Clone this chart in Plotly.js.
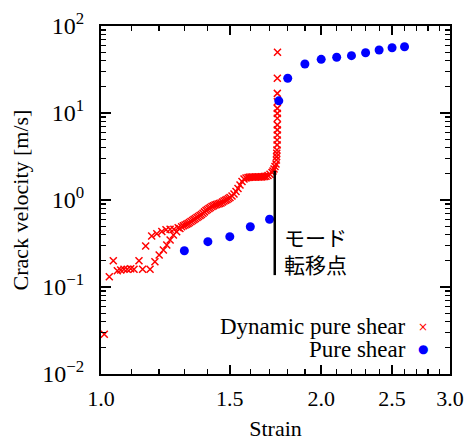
<!DOCTYPE html>
<html>
<head>
<meta charset="utf-8">
<script src="https://cdn.plot.ly/plotly-3.0.1.min.js"></script>
<style>html,body{margin:0;padding:0;background:#fff;}#chart{width:467px;height:441px;}</style>
</head>
<body>
<div id="chart"></div>
<script>
// Dynamic pure shear (red crosses)
const dynStrain = [
  1.0104, 1.0265, 1.0395, 1.0527, 1.064, 1.075, 1.086, 1.098, 1.1095, 1.127,
  1.140, 1.151, 1.167, 1.173, 1.185, 1.192, 1.201, 1.211, 1.217, 1.227,
  1.230, 1.243, 1.243, 1.256, 1.258, 1.269, 1.275, 1.282, 1.289, 1.296,
  1.3027, 1.309, 1.3151, 1.321, 1.3275, 1.334, 1.3401, 1.346, 1.3528, 1.359,
  1.3657, 1.372, 1.3786, 1.385, 1.3917, 1.398, 1.4049, 1.411, 1.4182, 1.425,
  1.4317, 1.438, 1.4453, 1.452, 1.4590, 1.466, 1.4728, 1.480, 1.4868, 1.494,
  1.5009, 1.5104, 1.5199, 1.5295, 1.5392, 1.5489, 1.5587, 1.5686, 1.5785, 1.5885,
  1.596, 1.6035, 1.611, 1.6187, 1.626, 1.6341, 1.642, 1.6496, 1.657, 1.6652,
  1.673, 1.6810, 1.6916, 1.7023, 1.7131, 1.7185, 1.7239, 1.7293, 1.7348,
  1.737, 1.738, 1.739, 1.740, 1.741, 1.741, 1.742, 1.742, 1.742, 1.742,
  1.742, 1.742, 1.742, 1.742, 1.742, 1.743
];
const dynVelocity = [
  0.0286, 0.131, 0.200, 0.154, 0.157, 0.160, 0.160, 0.162, 0.160, 0.200,
  0.160, 0.296, 0.160, 0.386, 0.195, 0.41, 0.233, 0.435, 0.266, 0.455,
  0.304, 0.347, 0.46, 0.396, 0.46, 0.432, 0.48, 0.47, 0.493, 0.505,
  0.516, 0.526, 0.537, 0.551, 0.566, 0.581, 0.597, 0.613, 0.629, 0.646,
  0.663, 0.683, 0.703, 0.730, 0.757, 0.778, 0.798, 0.820, 0.842, 0.860,
  0.876, 0.888, 0.900, 0.912, 0.924, 0.948, 0.974, 0.993, 1.013, 1.040,
  1.068, 1.112, 1.172, 1.252, 1.356, 1.487, 1.632, 1.743, 1.790, 1.814,
  1.826, 1.838, 1.838, 1.838, 1.838, 1.838, 1.838, 1.838, 1.845, 1.850,
  1.860, 1.873, 1.912, 1.974, 2.071, 2.154, 2.271, 2.427, 2.593,
  2.88, 3.15, 3.44, 3.76, 4.3, 4.9, 5.6, 6.4, 7.3, 8.7,
  9.9, 11.3, 13.5, 16.8, 25.1, 49.8
];
// Pure shear (blue dots)
const pureStrain = [1.3, 1.4, 1.5, 1.6, 1.7, 1.75, 1.8, 1.9, 2.0, 2.1, 2.2, 2.3, 2.4, 2.5, 2.6];
const pureVelocity = [0.261, 0.332, 0.379, 0.493, 0.600, 13.8, 25.1, 36.6, 41.4, 43.7, 45.6, 49.3, 53.0, 56.3, 57.8];
// Mode transition marker line
const transitionStrain = [1.728, 1.728];
const transitionVelocity = [0.137, 2.17];

// Axis ticks
const xTickVals = [1.0, 1.5, 2.0, 2.5, 3.0];
const xTickText = ["1.0", "1.5", "2.0", "2.5", "3.0"];
const xMinorVals = [1.1, 1.2, 1.3, 1.4, 1.6, 1.7, 1.8, 1.9, 2.1, 2.2, 2.3, 2.4, 2.6, 2.7, 2.8, 2.9];
const yTickVals = [0.01, 0.1, 1, 10, 100];
const yTickText = ["10<sup>−2</sup>", "10<sup>−1</sup>", "10<sup>0</sup>", "10<sup>1</sup>", "10<sup>2</sup>"];
const yMinorVals = [];
[0.01, 0.1, 1, 10].forEach(d => { for (let k = 2; k <= 9; k++) yMinorVals.push(+(d * k).toPrecision(3)); });

const serif = "'Liberation Serif', 'Times New Roman', serif";

const traces = [
  {
    x: dynStrain, y: dynVelocity, type: "scatter", mode: "markers",
    name: "Dynamic pure shear", showlegend: false,
    marker: { symbol: "x-thin", size: 7, color: "#ff0000", line: { color: "#ff0000", width: 1.5 } }
  },
  {
    x: pureStrain, y: pureVelocity, type: "scatter", mode: "markers",
    name: "Pure shear", showlegend: false,
    marker: { symbol: "circle", size: 9, color: "#0000ff" }
  },
  {
    x: transitionStrain, y: transitionVelocity, type: "scatter", mode: "lines",
    showlegend: false, hoverinfo: "skip",
    line: { color: "#000", width: 2.5 }
  }
];

const layout = {
  width: 467, height: 441,
  margin: { l: 101, r: 17, t: 26, b: 67 },
  paper_bgcolor: "#fff", plot_bgcolor: "#fff",
  showlegend: false,
  font: { family: serif, size: 22, color: "#000" },
  xaxis: {
    type: "log", range: [0, Math.log10(3)],
    tickmode: "array", tickvals: xTickVals, ticktext: xTickText,
    ticks: "inside", ticklen: 9, tickwidth: 1.5, tickcolor: "#000",
    minor: { tickvals: xMinorVals, ticks: "inside", ticklen: 5, tickwidth: 1.2, tickcolor: "#000" },
    showline: true, linewidth: 2, linecolor: "#000", mirror: "ticks",
    showgrid: false, zeroline: false,
    tickfont: { family: serif, size: 22 },
    ticklabelstandoff: 4,
    title: { text: "Strain", font: { family: serif, size: 22 }, standoff: 11 }
  },
  yaxis: {
    type: "log", range: [-2, 2],
    tickmode: "array", tickvals: yTickVals, ticktext: yTickText,
    ticks: "inside", ticklen: 10, tickwidth: 1.5, tickcolor: "#000",
    minor: { tickvals: yMinorVals, ticks: "inside", ticklen: 5, tickwidth: 1.2, tickcolor: "#000" },
    showline: true, linewidth: 2, linecolor: "#000", mirror: "ticks",
    showgrid: false, zeroline: false,
    tickfont: { family: serif, size: 24 },
    ticklabelstandoff: 10,
    title: { text: "Crack velocity [m/s]", font: { family: serif, size: 22 }, standoff: 8 }
  },
  annotations: [
    { xref: "paper", yref: "paper", x: 0.52, y: 0.354, xanchor: "left", yanchor: "middle", align: "left",
      text: "モード<br>転移点", showarrow: false, font: { family: "Noto Sans CJK JP", size: 21, color: "#000" } },
    { xref: "paper", yref: "paper", x: 0.879, y: 0.136, xanchor: "right", yanchor: "middle",
      text: "Dynamic pure shear", showarrow: false, font: { family: serif, size: 23, color: "#000" } },
    { xref: "paper", yref: "paper", x: 0.879, y: 0.071, xanchor: "right", yanchor: "middle",
      text: "Pure shear", showarrow: false, font: { family: serif, size: 23, color: "#000" } },
    { xref: "paper", yref: "paper", x: 0.9226, y: 0.136, xanchor: "center", yanchor: "middle",
      text: "×", showarrow: false, font: { family: "DejaVu Sans", size: 12, color: "#ff0000" } },
    { xref: "paper", yref: "paper", x: 0.9226, y: 0.071, xanchor: "center", yanchor: "middle",
      text: "●", showarrow: false, font: { family: "DejaVu Sans", size: 12, color: "#0000ff" } }
  ]
};

Plotly.newPlot("chart", traces, layout, { displayModeBar: false, staticPlot: true });
</script>
</body>
</html>
